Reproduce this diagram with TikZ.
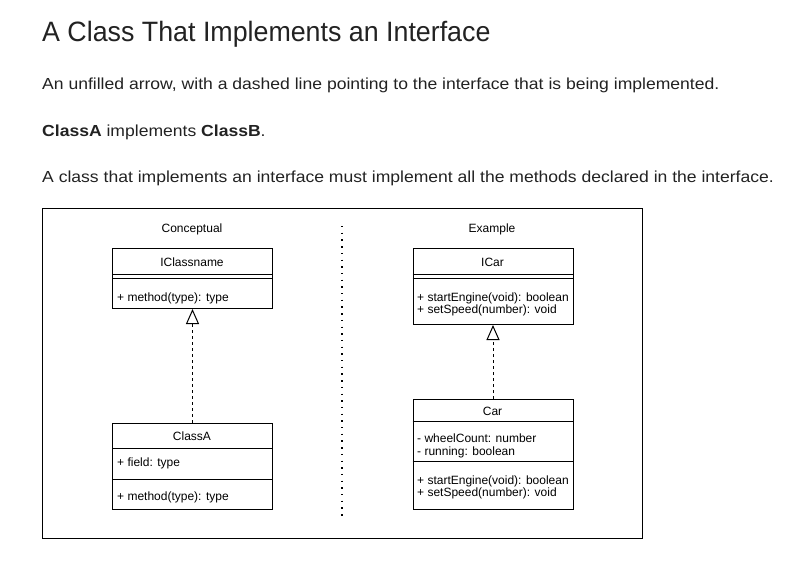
\documentclass[tikz,border=0pt]{standalone}
\usepackage{fontspec}
\setmainfont{Liberation Sans}
\newfontfamily\parafont[FakeStretch=1.097]{Liberation Sans}
\newfontfamily\titlefont[FakeStretch=0.957]{Liberation Sans}
\usetikzlibrary{arrows.meta}
\definecolor{txt}{RGB}{34,34,34}
\tikzset{
  umlbox/.style={draw=black, line width=1pt, minimum width=160pt, inner sep=0pt, anchor=north west},
  lbl/.style={font=\fontsize{12}{14}\selectfont, inner sep=0pt, text=black},
  para/.style={font=\parafont\fontsize{16}{19}\selectfont, inner sep=0pt, anchor=base west, text=txt},
  realize/.style={draw=black, line width=1pt, dash pattern=on 3pt off 3pt,
    -{Triangle[open, length=15pt, width=13pt, line width=1pt]}},
  divider/.style={draw=black, line width=1.4pt, dash pattern=on 1.4pt off 5.3pt},
  sep/.style={draw=black, line width=1pt}
}
\begin{document}
\begin{tikzpicture}[x=1pt,y=-1pt]
\useasboundingbox (0,0) rectangle (809,575);
% heading and paragraphs
\node[para, font=\titlefont\fontsize{28}{32}\selectfont] (title) at (42,41.7) {A Class That Implements an Interface};
\node[para] (p1) at (42,90) {An unfilled arrow, with a dashed line pointing to the interface that is being implemented.};
\node[para] (p2) at (42,136.3) {\textbf{ClassA} implements \textbf{ClassB}.};
\node[para] (p3) at (42,182.3) {A class that implements an interface must implement all the methods declared in the interface.};
% frame
\node[draw=black, line width=1pt, minimum width=600pt, minimum height=330pt, inner sep=0pt, anchor=north west] (frame) at (42,208) {};
% divider
\coordinate (dtop) at (342,226);
\coordinate (dbot) at (342,520);
\draw[divider] (dtop) -- (dbot);
% column captions
\node[lbl, anchor=base] (conc) at (192,232) {Conceptual};
\node[lbl, anchor=base] (exam) at (492,232) {Example};
% IClassname
\node[umlbox, minimum height=60pt] (icn) at (112,248) {};
\draw[sep] (112,274) -- (272,274);
\draw[sep] (112,278.3) -- (272,278.3);
\node[lbl, anchor=base] (icnname) at (192,266.3) {IClassname};
\node[lbl, anchor=base west] (icnm) at (117,301.5) {+ method(type): type};
% ClassA
\node[umlbox, minimum height=86pt] (ca) at (112,422.5) {};
\draw[sep] (112,448.7) -- (272,448.7);
\draw[sep] (112,479) -- (272,479);
\node[lbl, anchor=base] (caname) at (192,440) {ClassA};
\node[lbl, anchor=base west] (caf) at (117,466.3) {+ field: type};
\node[lbl, anchor=base west] (cam) at (117,500) {+ method(type): type};
% ICar
\node[umlbox, minimum height=76pt] (icar) at (412.5,248) {};
\draw[sep] (412.5,274) -- (572.5,274);
\draw[sep] (412.5,278.3) -- (572.5,278.3);
\node[lbl, anchor=base] (icarname) at (492.5,266.3) {ICar};
\node[lbl, anchor=base west] (icarm1) at (417,301.5) {+ startEngine(void): boolean};
\node[lbl, anchor=base west] (icarm2) at (417,313.5) {+ setSpeed(number): void};
% Car
\node[umlbox, minimum height=109.5pt] (car) at (412.5,399) {};
\draw[sep] (412.5,421.7) -- (572.5,421.7);
\draw[sep] (412.5,461.7) -- (572.5,461.7);
\node[lbl, anchor=base] (carname) at (492.5,415) {Car};
\node[lbl, anchor=base west] (carf1) at (417,442.3) {- wheelCount: number};
\node[lbl, anchor=base west] (carf2) at (417,455.7) {- running: boolean};
\node[lbl, anchor=base west] (carm1) at (417,484) {+ startEngine(void): boolean};
\node[lbl, anchor=base west] (carm2) at (417,496.3) {+ setSpeed(number): void};
% realizations
\draw[realize] (ca.north) -- (icn.south);
\draw[realize] (car.north) -- (icar.south);
\end{tikzpicture}
\end{document}
